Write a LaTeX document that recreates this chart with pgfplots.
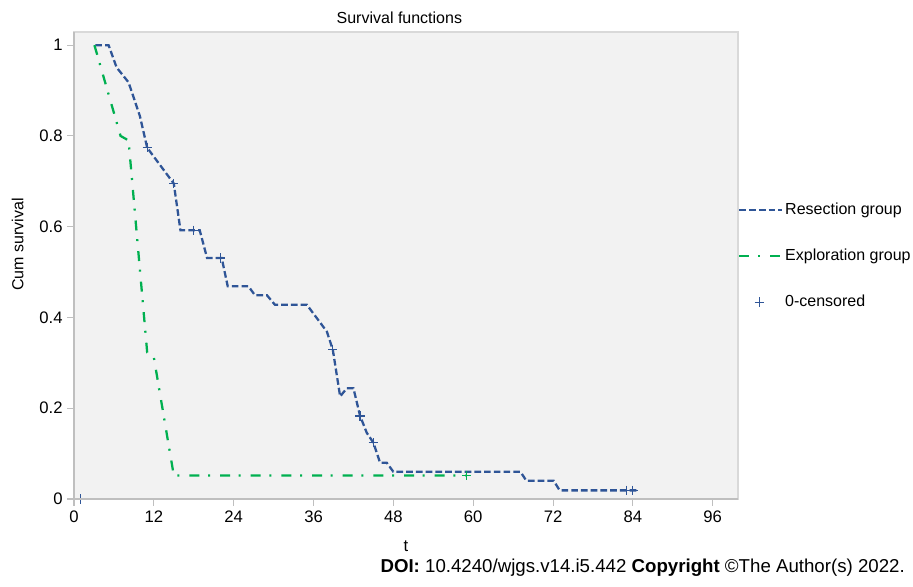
\documentclass[border=0pt]{standalone}
\usepackage{fontspec}
\setmainfont{Liberation Sans}
\usepackage{pgfplots}
\usepackage{pgfplotstable}
\pgfplotsset{compat=1.18}

\definecolor{resec}{HTML}{2F5597}
\definecolor{explo}{HTML}{00B050}
\definecolor{plotbg}{HTML}{F2F2F2}
\definecolor{framegray}{HTML}{D9D9D9}
\definecolor{axisgray}{HTML}{BFBFBF}

\pgfplotsset{
    lineleg/.style={legend image code/.code={\draw[##1] (0pt,0pt) -- (32pt,0pt);}},
    markleg/.style={legend image code/.code={\draw[##1] plot coordinates {(15pt,0pt)};}},
}

% Kaplan-Meier curves (t in months)
\pgfplotstableread{
t     S
3.2   1.000
5.2   1.000
6.4   0.951
8.2   0.918
9.9   0.844
11.0  0.774
15.0  0.695
16.0  0.592
18.9  0.592
20.0  0.531
22.2  0.531
23.1  0.469
26.2  0.469
27.2  0.449
29.0  0.449
30.2  0.428
35.0  0.428
38.0  0.369
38.9  0.329
40.0  0.226
41.0  0.244
42.0  0.244
43.0  0.183
44.0  0.146
45.0  0.124
46.0  0.080
47.0  0.080
48.0  0.060
67.1  0.060
68.0  0.040
72.1  0.040
73.0  0.019
84.6  0.019
}\resection

\pgfplotstableread{
t     S
3.07  1.000
7.0   0.800
8.2   0.790
11.0  0.323
12.0  0.312
15.0  0.052
59.0  0.052
}\exploration

% censored observations
\pgfplotstableread{
t     S
1.0   0.000
11.0  0.774
15.0  0.695
18.0  0.592
22.0  0.531
38.9  0.329
43.0  0.183
45.0  0.124
83.0  0.019
84.0  0.019
}\resectioncens

\pgfplotstableread{
t     S
59.0  0.052
}\explorationcens

\begin{document}
\begin{tikzpicture}
\begin{axis}[
    name=ax,
    scale only axis,
    width=498pt, height=350.25pt,
    xmin=0, xmax=99.8,
    ymin=0, ymax=1.029,
    xtick={0,12,...,96},
    ytick={0,0.2,0.4,0.6,0.8,1},
    yticklabels={0,0.2,0.4,0.6,0.8,1},
    tick align=outside,
    xtick pos=bottom, ytick pos=left,
    major tick length=5pt,
    tick style={axisgray, line width=0.8pt},
    /pgf/number format/assume math mode=true,
    tick label style={font=\fontsize{12.5}{14}\selectfont},
    axis background/.style={fill=plotbg},
    axis line style={draw=framegray, line width=0.8pt},
    every axis title shift=0pt,
    title={Survival functions},
    title style={font=\fontsize{12}{14}\selectfont, at={(0.49,1)}, anchor=base, yshift=6.5pt},
    xlabel={t},
    xlabel style={font=\fontsize{12.5}{14}\selectfont, at={(0.5,0)}, anchor=base, yshift=-39pt},
    ylabel={Cum survival},
    ylabel style={font=\fontsize{12}{14}\selectfont, at={(axis description cs:-0.085,0.545)}, anchor=center},
    legend style={at={(1,0.520)}, anchor=west, draw=none, fill=none,
        inner sep=0pt, row sep=22.5pt,
        font=\fontsize{12}{14}\selectfont,
        nodes={text height=9pt, text depth=3pt, inner ysep=0pt, inner xsep=1.5pt}},
    legend cell align=left,
    extra description/.code={
        \draw[axisgray, line width=1.1pt] (rel axis cs:0,1) -- (rel axis cs:0,0) -- (rel axis cs:1,0);
    },
]
\addplot[resec, line width=1.7pt, dash pattern=on 5pt off 2.3pt, lineleg]
    table[x=t, y=S] {\resection};
\addlegendentry{Resection group}

\addplot[explo, line width=1.7pt, dash pattern=on 7.5pt off 6.5pt on 1.5pt off 7.5pt, lineleg]
    table[x=t, y=S] {\exploration};
\addlegendentry{Exploration group}

\addplot[resec, only marks, mark=+, mark size=3.5pt, line width=0.9pt, markleg]
    table[x=t, y=S] {\resectioncens};
\addlegendentry{0-censored}

\addplot[explo, only marks, mark=+, mark size=3.5pt, line width=0.9pt, forget plot]
    table[x=t, y=S] {\explorationcens};
\end{axis}

\node[anchor=base east, font=\fontsize{14}{16}\selectfont, inner sep=0pt]
    at ([xshift=125.25pt, yshift=-55pt]ax.south east)
    {\textbf{DOI:} 10.4240/wjgs.v14.i5.442 \textbf{Copyright} ©The Author(s) 2022.};

\pgfresetboundingbox
\path[use as bounding box] ([xshift=-55.5pt, yshift=-66pt]ax.south west)
    rectangle ([xshift=131.25pt, yshift=24pt]ax.north east);
\end{tikzpicture}
\end{document}
